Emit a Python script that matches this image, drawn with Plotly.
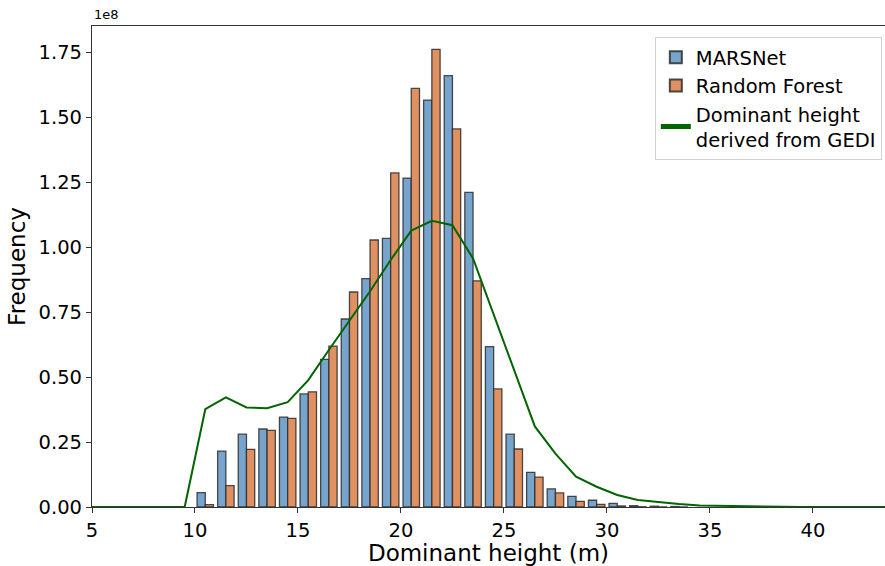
import plotly.graph_objects as go

# Histogram bins: 1 m wide, centers at k + 0.5
bin_centers = [k + 0.5 for k in range(10, 34)]
# Frequencies in units of 1e8
marsnet = [0.055, 0.215, 0.280, 0.300, 0.346, 0.435, 0.568, 0.723, 0.878, 1.033,
           1.265, 1.565, 1.659, 1.210, 0.617, 0.280, 0.133, 0.070, 0.041, 0.026,
           0.014, 0.005, 0.003, 0.002]
random_forest = [0.009, 0.082, 0.222, 0.295, 0.341, 0.443, 0.619, 0.827, 1.027, 1.285,
                 1.610, 1.760, 1.454, 0.870, 0.454, 0.223, 0.115, 0.054, 0.022, 0.010,
                 0.004, 0.001, 0.0005, 0.0003]

gedi_x = [k + 0.5 for k in range(0, 50)]
gedi_y = [0, 0, 0, 0, 0, 0, 0, 0, 0, 0,
          0.376, 0.422, 0.383, 0.380, 0.403, 0.488, 0.604, 0.717, 0.830, 0.950,
          1.063, 1.101, 1.084, 0.956, 0.740, 0.520, 0.310, 0.205, 0.117, 0.078,
          0.046, 0.027, 0.018, 0.0115, 0.006, 0.004, 0.002, 0.001, 0.0005, 0.0003,
          0.0002, 0.0001, 0, 0, 0, 0, 0, 0, 0, 0]

x_ticks = [5, 10, 15, 20, 25, 30, 35, 40]
y_ticks = [0, 0.25, 0.5, 0.75, 1.0, 1.25, 1.5, 1.75]

FONT = "DejaVu Sans"
edge = dict(color="rgba(45,45,45,0.85)", width=1.3)

fig = go.Figure()
fig.add_trace(go.Bar(x=bin_centers, y=marsnet, name="MARSNet",
                     marker=dict(color="#76a4cd", line=edge)))
fig.add_trace(go.Bar(x=bin_centers, y=random_forest, name="Random Forest",
                     marker=dict(color="#e09161", line=edge)))
fig.add_trace(go.Scatter(x=gedi_x, y=gedi_y, mode="lines",
                         name="Dominant height<br>derived from GEDI",
                         line=dict(color="#006400", width=2)))

fig.update_layout(
    width=885, height=566,
    margin=dict(l=92, r=0, t=26, b=59),
    paper_bgcolor="white", plot_bgcolor="white",
    barmode="group", bargap=0.2, bargroupgap=0,
    font=dict(family=FONT, color="black", size=19),
    showlegend=True,
    legend=dict(x=0.996, y=0.977, xanchor="right", yanchor="top",
                bgcolor="white", bordercolor="#d0d0d0", borderwidth=1,
                font=dict(family=FONT, size=19.5), tracegroupgap=0,
                itemsizing="constant"),
    xaxis=dict(range=[5, 43.5], tickvals=x_ticks, ticks="outside", ticklen=5,
               tickwidth=1.2, tickcolor="#333", showline=True, linecolor="#333",
               linewidth=1.2, mirror=True, showgrid=False, zeroline=False,
               tickfont=dict(size=19.5),
               title=dict(text="Dominant height (m)", font=dict(size=23), standoff=4)),
    yaxis=dict(range=[0, 1.85], tickvals=y_ticks, tickformat=".2f", ticks="outside",
               ticklen=5, tickwidth=1.2, tickcolor="#333", showline=True,
               linecolor="#333", linewidth=1.2, showgrid=False, zeroline=False,
               tickfont=dict(size=19.5),
               title=dict(text="Frequency", font=dict(size=23), standoff=6)),
    annotations=[dict(text="1e8", xref="paper", yref="paper", x=0, y=1,
                      xanchor="left", yanchor="bottom", showarrow=False,
                      font=dict(size=13, family=FONT), yshift=2)],
)

fig.write_html("out.html")
